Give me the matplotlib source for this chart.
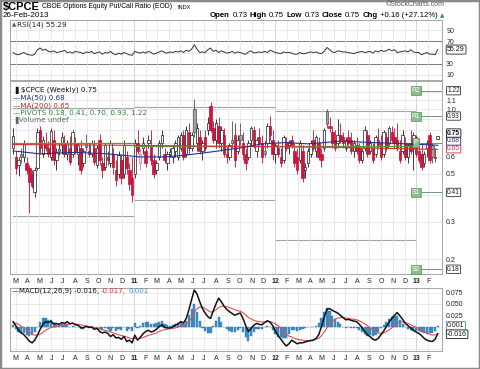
import matplotlib
matplotlib.use('Agg')
import matplotlib.pyplot as plt
import matplotlib.dates as mdates
from matplotlib.patches import Rectangle
from matplotlib.ticker import FixedLocator, NullLocator
import numpy as np
import pandas as pd

W, H = 480, 369
plt.rcParams['font.family'] = ['Liberation Sans', 'DejaVu Sans']

# weekly candles, values in hundredths (Feb 22 2010 .. Feb 25 2013)
opens = [66, 60, 55, 62, 60, 56, 53, 50, 41, 53, 80, 62, 70, 66, 60, 72, 58, 64, 68, 70,
         62, 66, 62, 70, 62, 66, 56, 70, 64, 62, 66, 55, 72, 56, 54, 60, 56, 62, 52, 50,
         58, 50, 60, 52, 48,
         50, 70, 56, 66, 64, 70, 68, 58, 52, 60, 70, 62, 56, 62, 60, 64, 60, 66, 76, 62,
         78, 66, 100, 70, 74, 64, 74, 80, 104, 82, 72, 84, 70, 76, 62, 60, 72, 76, 64, 76,
         70, 62, 60, 72, 80, 64, 74, 70, 64, 70, 84, 72,
         62, 66, 60, 58, 70, 68, 72, 64, 60, 58, 64, 52, 56, 62, 72, 64, 70, 62, 66, 98,
         84, 78, 72, 70, 76, 74, 66, 74, 72, 64, 68, 66, 58, 66, 76, 64, 66, 62, 72, 70,
         62, 74, 70, 78, 74, 72, 64, 64, 70, 60, 70, 66, 74,
         64, 62, 56, 66, 76, 68, 60, 73]
highs = [82, 64, 60, 66, 72, 60, 55, 52, 54, 82, 84, 75, 78, 71, 82, 80, 66, 70, 78, 76,
         72, 75, 80, 74, 70, 72, 66, 77, 70, 72, 72, 68, 77, 60, 70, 64, 72, 66, 58, 64,
         62, 72, 64, 56, 60,
         73, 80, 66, 74, 68, 76, 80, 62, 58, 72, 80, 66, 64, 66, 68, 72, 76, 78, 80, 84,
         86, 78, 112, 86, 80, 72, 80, 92, 108, 88, 90, 92, 84, 82, 68, 70, 88, 86, 76, 86,
         78, 66, 72, 84, 84, 74, 82, 76, 72, 86, 93, 80,
         70, 72, 66, 76, 74, 72, 76, 70, 66, 72, 68, 56, 66, 72, 80, 76, 74, 66, 82, 100,
         92, 84, 80, 90, 86, 78, 74, 80, 78, 72, 74, 70, 66, 84, 80, 72, 70, 76, 82, 76,
         80, 78, 84, 84, 82, 86, 72, 80, 74, 70, 80, 78, 76,
         72, 70, 64, 72, 78, 70, 66, 75]
lows = [62, 50, 49, 56, 57, 50, 33, 43, 39, 52, 62, 60, 64, 60, 58, 55, 52, 61, 62, 60,
        58, 55, 60, 62, 55, 50, 54, 64, 60, 60, 55, 53, 55, 48, 52, 55, 54, 50, 44, 48,
        45, 48, 50, 42, 37,
        48, 62, 52, 62, 54, 66, 55, 48, 50, 58, 66, 56, 52, 60, 56, 60, 58, 64, 58, 60,
        62, 64, 74, 64, 62, 58, 64, 76, 78, 70, 66, 66, 64, 60, 56, 58, 66, 54, 62, 68,
        58, 52, 58, 68, 66, 60, 68, 56, 60, 66, 72, 58,
        56, 60, 54, 56, 64, 62, 66, 54, 50, 56, 46, 48, 54, 60, 64, 60, 58, 54, 64, 82,
        78, 66, 64, 66, 70, 66, 64, 68, 62, 60, 62, 56, 56, 64, 60, 62, 56, 60, 66, 58,
        60, 64, 68, 70, 66, 64, 56, 62, 58, 56, 62, 52, 60,
        56, 52, 54, 60, 56, 56, 57, 73]
closes = [75, 53, 58, 60, 69, 52, 46, 44, 52, 78, 66, 72, 66, 62, 79, 58, 63, 65, 74, 62,
          70, 57, 78, 64, 68, 52, 64, 67, 62, 70, 57, 66, 58, 52, 68, 58, 70, 54, 47, 61,
          48, 68, 53, 45, 40,
          70, 64, 62, 70, 56, 72, 58, 50, 56, 70, 76, 58, 62, 63, 66, 70, 74, 76, 60, 80,
          66, 76, 78, 82, 64, 70, 66, 86, 80, 72, 86, 70, 80, 62, 60, 68, 70, 58, 72, 72,
          62, 56, 70, 82, 68, 72, 70, 60, 62, 84, 76, 62,
          68, 62, 56, 74, 66, 70, 68, 56, 52, 70, 48, 54, 64, 70, 66, 74, 60, 58, 80, 85,
          82, 70, 66, 76, 72, 70, 72, 70, 64, 70, 64, 58, 64, 80, 62, 70, 58, 74, 68, 60,
          78, 66, 82, 72, 70, 66, 58, 76, 60, 68, 64, 76, 62,
          58, 54, 62, 70, 58, 60, 59, 75]

rsi = [50, 47, 46, 48, 50, 47, 46, 45, 47, 55, 58, 54, 56, 52, 51, 53, 50, 51, 52, 54,
       50, 51, 49, 52, 51, 50, 48, 51, 50, 52, 48, 50, 51, 47, 50, 49, 52, 48, 46, 49,
       47, 50, 48, 46, 45,
       52, 50, 49, 51, 49, 52, 50, 47, 49, 51, 53, 50, 49, 51, 50, 52, 51, 53, 50, 54,
       52, 56, 64, 56, 50, 51, 50, 55, 58, 52, 54, 50, 53, 51, 49, 50, 52, 49, 51, 50,
       48, 47, 51, 53, 49, 50, 51, 50, 52, 50, 54, 52,
       50, 49, 48, 51, 50, 50, 49, 47, 47, 50, 48, 48, 50, 51, 50, 51, 49, 48, 52, 59,
       55, 51, 50, 53, 52, 51, 51, 50, 49, 48, 50, 51, 52, 50, 51, 52, 49, 53, 51, 54,
       52, 53, 56, 53, 55, 50, 51, 52, 53, 51, 55, 51, 50,
       50, 46, 48, 50, 47, 47, 46, 55.29]

# MACD(12,26,9) in thousandths
macd = [11, 2, -8, -14, -18, -25, -32, -36, -30, -19, -6, 5, 11, 9, 12, 6, 7, 5, 9, 7,
        11, 6, 8, 4, 3, -2, -3, 1, -2, -1, -6, -4, -11, -14, -12, -15, -22, -18, -25, -24,
        -28, -22, -33, -30, -36,
        -19, -30, -24, -16, -11, -8, -12, -10, -6, 0, 4, -2, -3, -3, -1, 3, 6, 11, 8, 18,
        37, 60, 81, 72, 55, 40, 30, 22, 18, 35, 50, 63, 55, 45, 38, 33, 29, 25, 28, 30,
        18, 2, -11, -4, 3, 7, 5, 4, 9, 13, 10, 2,
        -11, -20, -28, -36, -43, -38, -30, -34, -38, -36, -36, -34, -32, -31, -30, -26, -18, 0, 20, 38,
        40, 36, 33, 30, 25, 20, 15, 16, 14, 12, 11, 5, -2, -11, -18, -22, -28, -30, -26, -18,
        -10, 0, 10, 18, 25, 31, 24, 16, 7, 2, -3, -8, -12,
        -15, -20, -26, -30, -32, -33, -28, -16]
signal = [8, 8, 5, 1, -3, -7, -12, -17, -19, -19, -17, -13, -8, -5, -2, -1, 0, 1, 3, 4,
          5, 6, 7, 6, 5, 4, 2, 1, 0, -1, -2, -3, -5, -7, -8, -10, -12, -14, -16, -18,
          -20, -21, -23, -25, -27,
          -26, -27, -26, -24, -22, -19, -18, -16, -14, -11, -8, -7, -6, -5, -4, -3, -1, 1, 2, 5,
          11, 20, 32, 40, 43, 43, 40, 36, 32, 33, 37, 42, 45, 45, 44, 42, 40, 37, 35, 34,
          31, 26, 20, 17, 14, 12, 11, 10, 10, 11, 11, 9,
          6, 2, -4, -10, -17, -21, -23, -26, -28, -29, -30, -31, -31, -31, -30, -28, -26, -20, -12, -3,
          6, 12, 16, 19, 20, 20, 19, 18, 17, 16, 15, 13, 10, 6, 2, -3, -7, -11, -14, -15,
          -14, -11, -7, -3, 2, 7, 10, 10, 9, 7, 4, 1, -2,
          -5, -8, -11, -14, -17, -19, -18, -17]

# moving averages read at a few weeks
ma50_weeks = [0, 10, 23, 35, 47, 56, 63, 72, 84, 92, 101, 109, 121, 133, 146, 157]
ma50_vals = [0.64, 0.62, 0.63, 0.62, 0.60, 0.60, 0.61, 0.63, 0.66, 0.69, 0.70, 0.69, 0.71, 0.70, 0.69, 0.68]
ma200_weeks = [0, 40, 80, 120, 157]
ma200_vals = [0.685, 0.68, 0.672, 0.665, 0.65]

# yearly pivots
piv_years = ['2010-02-22', '2011-01-01', '2012-01-01', '2013-01-01']
piv_r = [1.01, 1.03, 0.985]
piv_p = [0.70, 0.675, 0.675]
piv_s = [0.32, 0.38, 0.245]
piv_now = {'R2': 1.22, 'R1': 0.93, 'P': 0.70, 'S1': 0.41, 'S2': 0.18}

dates = pd.date_range('2010-02-22', periods=len(closes), freq='W-MON')
x = mdates.date2num(dates)
o = np.array(opens) / 100
h = np.array(highs) / 100
l = np.array(lows) / 100
c = np.array(closes) / 100
m = np.array(macd) / 1000
s = np.array(signal) / 1000
hist = m - s

xl = (mdates.date2num(pd.Timestamp('2010-02-14')), mdates.date2num(pd.Timestamp('2013-03-08')))
months = pd.date_range('2010-03-01', '2013-02-01', freq='MS')
mx = mdates.date2num(months)
mlab = [d.strftime('%y') if d.month == 1 else d.strftime('%b')[0] for d in months]
jan = [mdates.date2num(d) for d in months if d.month == 1]


def rect(left, top, right, bottom):
    return [left / W, 1 - bottom / H, (right - left) / W, (bottom - top) / H]


fig = plt.figure(figsize=(4.8, 3.69), dpi=100)
renderer = fig.canvas.get_renderer()


def chain(x0, y, pieces, gap=2.5):
    # place text pieces one after another, left to right (pixel coords)
    xx = x0
    for txt, kw in pieces:
        t = fig.text(xx / W, 1 - y / H, txt, va='center', **kw)
        xx = t.get_window_extent(renderer).x1 + gap


def fit(x0, x1, y, txt, fs=6, **kw):
    # text starting at x0 whose width is x1 - x0 pixels
    t = fig.text(x0 / W, 1 - y / H, txt, va='center', fontsize=fs, **kw)
    wd = t.get_window_extent(renderer).width
    t.set_fontsize(fs * (x1 - x0) / wd)
    return t


ax_r = fig.add_axes(rect(10, 20, 442, 80))
ax = fig.add_axes(rect(10, 81, 442, 274))
ax_m = fig.add_axes(rect(10, 288, 442, 351))

for a in (ax_r, ax, ax_m):
    a.set_xlim(xl)
    a.yaxis.tick_right()
    a.tick_params(axis='both', length=0, labelsize=5, pad=3, colors='#222')
    for sp in a.spines.values():
        sp.set_color('#999')
        sp.set_linewidth(0.6)
    a.set_xticks(mx)
    a.grid(True, axis='x', color='#e2e2e2', lw=0.5, zorder=0)
    for j in jan:
        a.axvline(j, color='#b0b0b0', lw=0.6, zorder=0)

ax_r.set_xticklabels([])
for a in (ax, ax_m):
    a.set_xticklabels(mlab)
    for t, d in zip(a.get_xticklabels(), months):
        if d.month == 1:
            t.set_fontweight('bold')

# ---- RSI panel
ax_r.set_ylim(1, 108)
ax_r.set_yticks([10, 30, 70, 90])
for v in (10, 50, 90):
    ax_r.axhline(v, color='#e2e2e2', lw=0.5, zorder=0)
for v in (30, 70):
    ax_r.axhline(v, color='#777', lw=0.7, zorder=1)
ax_r.plot(x, rsi, color='#333', lw=0.7, zorder=3)
ax_r.text(1.012, rsi[-1], '55.29', transform=ax_r.get_yaxis_transform(), fontsize=5,
          va='center', ha='left', bbox=dict(boxstyle='round,pad=0.15', fc='white', ec='#222', lw=0.6))
chain(12, 25, [('\u25b2', dict(fontsize=4, color='#555', family='DejaVu Sans')),
               ('RSI(14) 55.29', dict(fontsize=5.2, family='DejaVu Sans', color='#222'))], gap=1)

# ---- price panel
ax.set_yscale('log')
ax.set_ylim(0.171, 1.354)
ax.yaxis.set_major_locator(FixedLocator([0.2, 0.3, 0.5, 0.6, 1.0, 1.1]))
ax.yaxis.set_minor_locator(NullLocator())
ax.set_yticklabels(['0.2', '0.3', '0.5', '0.6', '1.0', '1.1'])
for v in (0.2, 0.3, 0.4, 0.5, 0.6, 0.7, 0.8, 0.9, 1.0, 1.1, 1.2):
    ax.axhline(v, color='#e2e2e2', lw=0.5, zorder=0)

# pivots per year
pt = mdates.date2num(pd.to_datetime(piv_years))
for i in range(len(piv_r)):
    ax.plot([pt[i], pt[i + 1]], [piv_r[i]] * 2, color='#9aa89a', lw=0.8, zorder=1)
    ax.plot([pt[i], pt[i + 1]], [piv_s[i]] * 2, color='#9aa89a', lw=0.8, zorder=1)
    ax.plot([pt[i], pt[i + 1]], [piv_p[i]] * 2, color='#5a9a3a', lw=0.9, zorder=5)
lab_x = mdates.date2num(pd.Timestamp('2012-12-31'))
for name, v in piv_now.items():
    ax.plot([lab_x, xl[1]], [v, v], color='#6f9a6f', lw=0.7, zorder=2)
    ax.text(lab_x, v, name, fontsize=4.8, color='white', ha='center', va='center', zorder=6,
            bbox=dict(boxstyle='square,pad=0.15', fc='#8dbb8d', ec='#5f8f5f', lw=0.5))

# candles
prev = np.r_[c[0], c[:-1]]
rising = c >= prev
hollow = c >= o
face = np.where(hollow, np.where(rising, 'white', '#fbe0e6'), np.where(rising, '#a0a0a0', '#d2143c'))
edge = np.where(rising, np.where(hollow, '#1a1a1a', '#505050'), np.where(hollow, '#e0708c', '#c01035'))
ax.vlines(x, l, h, colors=edge, lw=0.6, zorder=3)
body = np.maximum(np.abs(c - o), 0.006)
ax.bar(x, body, bottom=np.minimum(o, c), width=6.5, color=face, edgecolor=edge, lw=0.5, zorder=4)

ax.plot(x[ma200_weeks], ma200_vals, color='#d83030', lw=0.8, zorder=5)
ax.plot(x[ma50_weeks], ma50_vals, color='#27308a', lw=0.8, zorder=5)

# value tags on the right (slightly nudged apart where they crowd, as on the source)
ytr = ax.get_yaxis_transform()
for txt, v, ec, tc in [('1.22', 1.22, '#333', '#222'), ('0.93', 0.93, '#333', '#222'),
                       ('0.65', 0.655, '#d83030', '#d83030'), ('0.68', 0.712, '#27308a', '#27308a'),
                       ('0.75', 0.775, '#111', '#111'), ('0.41', 0.41, '#333', '#222'),
                       ('0.18', 0.18, '#333', '#222')]:
    ax.text(1.012, v, txt, transform=ytr, fontsize=4.8, va='center', ha='left', color=tc,
            fontweight='bold' if txt == '0.75' else 'normal', zorder=7,
            bbox=dict(boxstyle='round,pad=0.1', fc='white', ec=ec, lw=0.6))

leg = [('\u2014MA(50) 0.68', '#27308a', 98), ('\u2014MA(200) 0.65', '#d02030', 105.5),
       ('\u2014PIVOTS 0.18, 0.41, 0.70, 0.93, 1.22', '#3a7a3a', 113), ('\u2590Volume undef', '#666', 120.5)]
fig.text(13 / W, 1 - 90 / H, '\u2590 \\$CPCE (Weekly) 0.75', fontsize=5.2, va='center',
         family='DejaVu Sans', color='#111')
for txt, col, yy in leg:
    fig.text(13 / W, 1 - yy / H, txt, fontsize=5.2, va='center', family='DejaVu Sans', color=col)

# ---- MACD panel
ax_m.set_ylim(-0.054, 0.0854)
ax_m.set_yticks([0.025, 0.05, 0.075])
ax_m.set_yticklabels(['0.025', '0.050', '0.075'])
for v in (-0.05, -0.025, 0, 0.025, 0.05, 0.075):
    ax_m.axhline(v, color='#e2e2e2', lw=0.5, zorder=0)
ax_m.bar(x, hist, width=5.6, color='#3f8fc5', edgecolor='#2f78ad', lw=0.3, zorder=2)
ax_m.plot(x, s, color='#e05050', lw=0.8, zorder=3)
ax_m.plot(x, m, color='#111', lw=1.1, zorder=4)
mtr = ax_m.get_yaxis_transform()
ax_m.text(1.012, 0.0015, '0.001', transform=mtr, fontsize=5, va='center', ha='left', color='#222',
          bbox=dict(boxstyle='round,pad=0.12', fc='white', ec='#3f8fc5', lw=0.6))
ax_m.text(1.012, -0.017, '-0.016', transform=mtr, fontsize=5, va='center', ha='left', color='#111',
          bbox=dict(boxstyle='round,pad=0.12', fc='white', ec='#111', lw=0.6))
chain(12, 291, [('\u2014MACD(12,26,9) -0.016,', dict(fontsize=5, family='DejaVu Sans', color='#111')),
                ('-0.017,', dict(fontsize=5, family='DejaVu Sans', color='#d83030')),
                ('0.001', dict(fontsize=5, family='DejaVu Sans', color='#3f8fc5'))], gap=2)

# ---- header
fit(3, 40, 7, '\\$CPCE', fontweight='bold')
fit(42, 173, 7, 'CBOE Options Equity Put/Call Ratio (EOD)')
fit(177, 190, 7.5, 'INDX')
fit(3, 50, 15.5, '26-Feb-2013')
fig.text(445 / W, 1 - 5 / H, '\u00a9StockCharts.com', fontsize=5, va='center', ha='right', color='#555')
hdr = [('Open', True), ('0.73', False), ('High', True), ('0.75', False), ('Low', True),
       ('0.73', False), ('Close', True), ('0.75', False), ('Chg', True), ('+0.16 (+27.12%)', False)]
chain(210, 15.5, [(t, dict(fontsize=5.6, fontweight='bold' if b else 'normal')) for t, b in hdr]
      + [('\u25b2', dict(fontsize=4, color='#2a9a2a', family='DejaVu Sans'))], gap=2.4)

fig.patches.append(Rectangle((0, 0), 1, 1, transform=fig.transFigure, fill=False,
                             edgecolor='#8a8a8a', lw=2.5))

fig.savefig('out.png', dpi=100)
